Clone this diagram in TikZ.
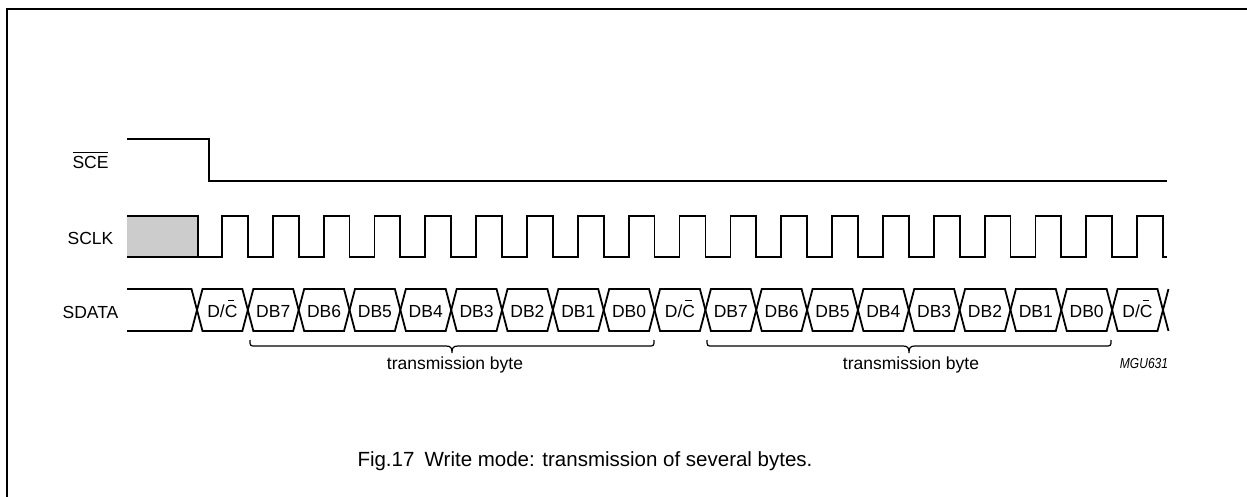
\documentclass[tikz,border=0pt]{standalone}
\usepackage{fontspec}
\setmainfont{Liberation Sans}
\newcommand\MyOvl[1]{\leavevmode\setbox0\hbox{#1}\rlap{\rule[16.2pt]{\wd0}{1.2pt}}\box0}
\newcommand\MyCbar{\leavevmode\rlap{\hspace{2.8pt}\rule[16pt]{6.5pt}{1.2pt}}C}
\newcommand\MyBrace[3]{% x1, x2, y
  \draw[bracel] (#1,#3) .. controls (#1,#3+6) .. ({#1+6},#3+6)
     -- ({(#1+#2)/2-6},#3+6) .. controls ({(#1+#2)/2-1},#3+6) and ({(#1+#2)/2},#3+8) .. ({(#1+#2)/2},#3+13)
     .. controls ({(#1+#2)/2},#3+8) and ({(#1+#2)/2+1},#3+6) .. ({(#1+#2)/2+6},#3+6)
     -- ({#2-6},#3+6) .. controls (#2,#3+6) .. (#2,#3);}
\begin{document}
\begin{tikzpicture}[x=1pt,y=-1pt,
  sig/.style={line width=1.8pt, line join=miter},
  bracel/.style={line width=1.2pt},
  lbl/.style={font=\fontsize{17.5}{20}\selectfont, inner sep=0pt, anchor=base},
  captext/.style={font=\fontsize{20.5}{24}\selectfont, inner sep=0pt, anchor=base},
  codetext/.style={font=\fontsize{14.5}{16}\selectfont\itshape, inner sep=0pt, anchor=base, xscale=0.83}]
\useasboundingbox (0,0) rectangle (1247,497);
% frame
\draw[line width=1.8pt] (7,497) -- (7,9) -- (1247,9);
% labels
\node[lbl] (lsce) at (90.5,169) {\MyOvl{SCE}};
\node[lbl] (lsclk) at (90.5,244) {SCLK};
\node[lbl] (lsdata) at (90.5,318) {SDATA};
% SCE
\draw[sig] (127,139) -- (209,139) -- (209,181) -- (1167,181);
% SCLK
\fill[gray!40] (127,216) rectangle (198,257);
\draw[sig] (127,257) -- (198,257);
\draw[sig] (127,216) -- (198,216) -- (198,257)
  \foreach \k in {0,...,18} {
    -- ({197+50.84*\k+25},257) -- ({197+50.84*\k+25},216)
    -- ({197+50.84*(\k+1)},216) -- ({197+50.84*(\k+1)},257) }
  -- (1167,257);
% SDATA
\draw[sig] (127,289) -- (191.5,289) -- (197,310) -- (191.5,331) -- (127,331);
\foreach \k in {0,...,18} {
  \pgfmathsetmacro\ca{197+50.84*\k}
  \pgfmathsetmacro\cb{197+50.84*(\k+1)}
  \draw[sig] (\ca,310) -- ({\ca+5.5},289) -- ({\cb-5.5},289) -- (\cb,310)
     -- ({\cb-5.5},331) -- ({\ca+5.5},331) -- cycle;
}
\draw[sig] ({197+50.84*19+5.5},289) -- ({197+50.84*19},310) -- ({197+50.84*19+5.5},331);
\foreach \t [count=\i from 0] in {D/\MyCbar,DB7,DB6,DB5,DB4,DB3,DB2,DB1,DB0,D/\MyCbar,DB7,DB6,DB5,DB4,DB3,DB2,DB1,DB0,D/\MyCbar} {
  \node[lbl] (cell\i) at ({197+50.84*\i+25.4},317) {\t};
}
% braces
\MyBrace{250}{654}{340}
\MyBrace{707}{1111}{340}
\node[lbl] (tb1) at (455,369) {transmission byte};
\node[lbl] (tb2) at (911,369) {transmission byte};
\node[codetext] (mgu) at (1144,368) {MGU631};
% caption
\node[captext] (caption) at (585,466) {Fig.17\hspace{0.5em}Write mode: transmission of several bytes.};
\end{tikzpicture}
\end{document}
